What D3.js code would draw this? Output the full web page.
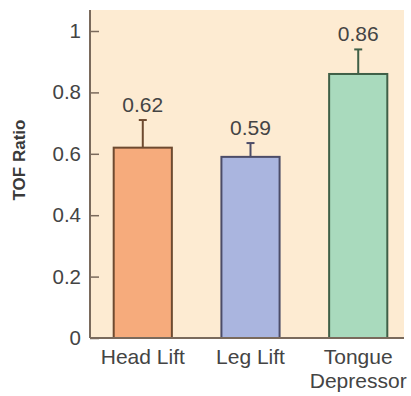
<!DOCTYPE html>
<html><head><meta charset="utf-8">
<script src="https://cdn.jsdelivr.net/npm/d3@7"></script>
<style>body{margin:0;background:#fff}svg{display:block}</style>
</head><body>
<script>
const categories = [["Head Lift"], ["Leg Lift"], ["Tongue", "Depressor"]];
const values = [0.62, 0.59, 0.86];
const errors = [0.09, 0.045, 0.08];
const valueLabels = ["0.62", "0.59", "0.86"];
const yTicks = [0, 0.2, 0.4, 0.6, 0.8, 1];
const yTickLabels = ["0", "0.2", "0.4", "0.6", "0.8", "1"];
const fills = ["#f6ab7c", "#aab5df", "#a9dabd"];
const strokes = ["#6e4a30", "#4c4c68", "#3f5f47"];

const W = 411, H = 396;
const FONT = "Liberation Sans, Arial, sans-serif";
const svg = d3.select("body").append("svg").attr("width", W).attr("height", H);
const x0 = 90, x1 = 404, yTop = 10, yBase = 338;
const y = d3.scaleLinear().domain([0, 1]).range([yBase, 31]);
const x = d3.scaleBand().domain(d3.range(values.length)).range([x0, x0 + 3 * 107]).paddingInner(0.46).paddingOuter(0.22);

svg.append("rect").attr("x", x0).attr("y", yTop).attr("width", x1 - x0).attr("height", yBase - yTop).attr("fill", "#fdebd2");

const g = svg.append("g");
values.forEach((v, i) => {
  const cx = x(i) + x.bandwidth() / 2;
  g.append("line").attr("x1", cx).attr("x2", cx).attr("y1", y(v)).attr("y2", y(v + errors[i])).attr("stroke", strokes[i]).attr("stroke-width", 2);
  g.append("line").attr("x1", cx - 4).attr("x2", cx + 4).attr("y1", y(v + errors[i])).attr("y2", y(v + errors[i])).attr("stroke", strokes[i]).attr("stroke-width", 2);
});
g.selectAll("rect.bar").data(values).join("rect").attr("class", "bar")
  .attr("x", (d, i) => x(i)).attr("width", x.bandwidth())
  .attr("y", d => y(d)).attr("height", d => yBase - y(d))
  .attr("fill", (d, i) => fills[i]).attr("stroke", (d, i) => strokes[i]).attr("stroke-width", 2);

g.selectAll("text.vl").data(values).join("text").attr("class", "vl")
  .attr("x", (d, i) => x(i) + x.bandwidth() / 2)
  .attr("y", (d, i) => y(d + errors[i]) - 8)
  .attr("text-anchor", "middle").attr("font-family", FONT)
  .attr("font-size", 21).attr("fill", "#444").text((d, i) => valueLabels[i]);

const yAxis = d3.axisRight(y).tickValues(yTicks).tickFormat((d, i) => yTickLabels[i]).tickSize(9);
const ay = svg.append("g").attr("transform", `translate(${x0},0)`).call(yAxis);
ay.select(".domain").remove();
ay.selectAll(".tick line").attr("stroke", "#7a6a5c").attr("stroke-width", 1.5);
ay.selectAll(".tick text").attr("x", -9).attr("text-anchor", "end")
  .attr("font-family", FONT).attr("font-size", 20.5).attr("fill", "#444");
svg.append("line").attr("x1", x0).attr("x2", x0).attr("y1", yTop).attr("y2", yBase).attr("stroke", "#7a6a5c").attr("stroke-width", 2);
svg.append("line").attr("x1", x0).attr("x2", x1).attr("y1", yBase).attr("y2", yBase).attr("stroke", "#7a6a5c").attr("stroke-width", 2);

categories.forEach((lines, i) => {
  lines.forEach((l, j) => svg.append("text")
    .attr("x", x(i) + x.bandwidth() / 2).attr("y", 364 + j * 24)
    .attr("text-anchor", "middle").attr("font-family", FONT)
    .attr("font-size", 21).attr("fill", "#444").text(l));
});

svg.append("text").attr("transform", "translate(25,160) rotate(-90)").attr("text-anchor", "middle")
  .attr("font-family", FONT).attr("font-weight", "bold").attr("font-size", 17)
  .attr("fill", "#3a3a3a").text("TOF Ratio");
</script>
</body></html>
